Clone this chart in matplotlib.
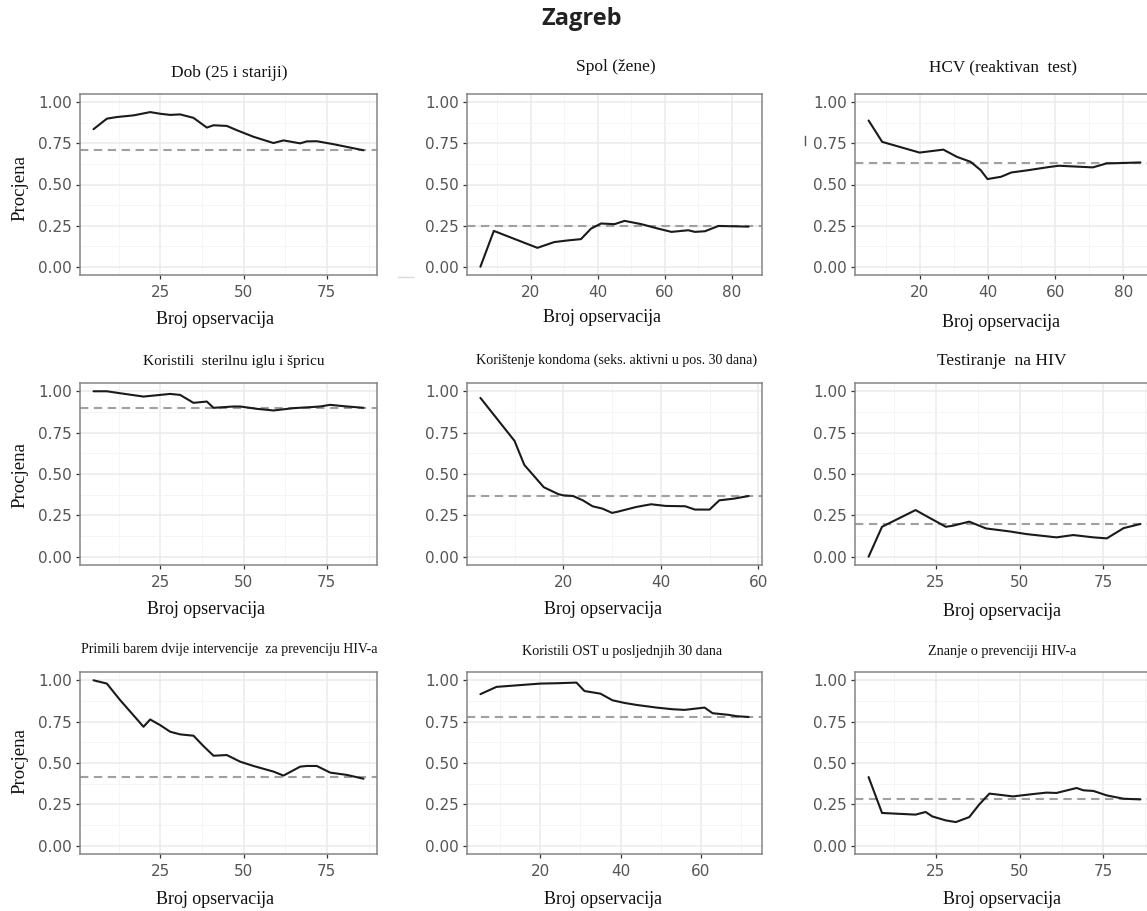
import matplotlib
matplotlib.use("Agg")
import matplotlib.pyplot as plt
from matplotlib.lines import Line2D
from matplotlib.ticker import FixedLocator, FixedFormatter

plt.rcParams["lines.scale_dashes"] = False

# ---- data: running estimate by number of observations ----
dob_n = [5, 9, 12, 17, 22, 25, 28, 31, 35, 39, 41, 45, 48, 53, 59, 62, 67, 69, 72, 77, 86]
dob_p = [0.836, 0.90, 0.91, 0.92, 0.94, 0.93, 0.923, 0.926, 0.905, 0.846, 0.86, 0.856,
         0.83, 0.79, 0.752, 0.768, 0.75, 0.762, 0.763, 0.745, 0.708]
dob_ref = 0.709

spol_n = [5, 9, 22, 27, 31, 35, 38, 41, 45, 48, 53, 58, 62, 67, 69, 72, 76, 85]
spol_p = [0.0, 0.218, 0.115, 0.15, 0.16, 0.168, 0.232, 0.263, 0.259, 0.279, 0.259,
          0.232, 0.212, 0.222, 0.212, 0.216, 0.248, 0.244]
spol_ref = 0.246

hcv_n = [5, 9, 20, 27, 31, 35, 38, 40, 44, 47, 52, 58, 61, 67, 71, 75, 85]
hcv_p = [0.889, 0.759, 0.694, 0.712, 0.668, 0.638, 0.587, 0.533, 0.547, 0.573, 0.587,
         0.606, 0.614, 0.608, 0.604, 0.628, 0.634]
hcv_ref = 0.628

igla_n = [5, 9, 13, 20, 25, 28, 31, 35, 37, 39, 41, 47, 49, 54, 59, 65, 70, 73, 76, 80, 86]
igla_p = [1.0, 1.0, 0.988, 0.968, 0.978, 0.984, 0.978, 0.93, 0.934, 0.938, 0.90, 0.908,
          0.908, 0.894, 0.884, 0.898, 0.904, 0.908, 0.918, 0.91, 0.90]
igla_ref = 0.90

kond_n = [3, 10, 12, 16, 19, 20, 22, 24, 26, 28, 30, 31, 35, 38, 41, 45, 47, 50, 52, 55, 58]
kond_p = [0.96, 0.70, 0.555, 0.42, 0.378, 0.371, 0.367, 0.341, 0.305, 0.291, 0.265,
          0.271, 0.301, 0.317, 0.307, 0.305, 0.285, 0.285, 0.341, 0.351, 0.367]
kond_ref = 0.367

test_n = [5, 9, 19, 22, 28, 30, 35, 40, 47, 52, 61, 66, 72, 76, 81, 86]
test_p = [0.0, 0.181, 0.282, 0.248, 0.181, 0.187, 0.212, 0.171, 0.153, 0.137, 0.117,
          0.131, 0.117, 0.111, 0.173, 0.198]
test_ref = 0.198

prim_n = [5, 9, 13, 20, 22, 25, 28, 31, 35, 38, 41, 45, 49, 53, 59, 62, 67, 69, 72, 76, 81, 86]
prim_p = [1.0, 0.98, 0.88, 0.719, 0.763, 0.729, 0.689, 0.673, 0.665, 0.602, 0.544, 0.548,
          0.508, 0.482, 0.448, 0.424, 0.478, 0.482, 0.482, 0.442, 0.428, 0.405]
prim_ref = 0.415

ost_n = [5, 9, 15, 20, 24, 29, 31, 35, 38, 41, 44, 49, 53, 56, 61, 63, 67, 69, 72]
ost_p = [0.916, 0.96, 0.971, 0.98, 0.982, 0.986, 0.935, 0.919, 0.879, 0.863, 0.851,
         0.835, 0.825, 0.821, 0.835, 0.801, 0.791, 0.783, 0.778]
ost_ref = 0.778

zn_n = [5, 9, 19, 22, 24, 28, 31, 35, 38, 41, 44, 48, 53, 58, 61, 67, 69, 72, 76, 81, 86]
zn_p = [0.415, 0.198, 0.188, 0.204, 0.177, 0.153, 0.143, 0.173, 0.25, 0.315, 0.308,
        0.298, 0.31, 0.321, 0.319, 0.349, 0.335, 0.331, 0.304, 0.284, 0.28]
zn_ref = 0.284

titles = [
    "Dob (25 i stariji)", "Spol (žene)", "HCV (reaktivan  test)",
    "Koristili  sterilnu iglu i špricu", "Korištenje kondoma (seks. aktivni u pos. 30 dana)",
    "Testiranje  na HIV",
    "Primili barem dvije intervencije  za prevenciju HIV-a", "Koristili OST u posljednjih 30 dana",
    "Znanje o prevenciji HIV-a",
]
series = [
    (dob_n, dob_p, dob_ref), (spol_n, spol_p, spol_ref), (hcv_n, hcv_p, hcv_ref),
    (igla_n, igla_p, igla_ref), (kond_n, kond_p, kond_ref), (test_n, test_p, test_ref),
    (prim_n, prim_p, prim_ref), (ost_n, ost_p, ost_ref), (zn_n, zn_p, zn_ref),
]
x_breaks = [
    [25, 50, 75], [20, 40, 60, 80], [20, 40, 60, 80],
    [25, 50, 75], [20, 40, 60], [25, 50, 75],
    [25, 50, 75], [20, 40, 60], [25, 50, 75],
]
y_breaks = [0.0, 0.25, 0.50, 0.75, 1.00]
y_labels = ["0.00", "0.25", "0.50", "0.75", "1.00"]
x_label = "Broj opservacija"
y_label = "Procjena"
main_title = "Zagreb"

# ---- layout (pixels) ----
W, H, DPI = 1147, 911, 100
col_lr = [(80, 377), (467, 762), (855, 1154)]
row_tb = [(94, 275), (383, 565), (672, 854)]
title_xy = [(229, 73), (616, 67), (1003, 67),
            (234, 361), (617, 360), (1002, 361),
            (229, 650), (622, 652), (1002, 651)]
title_size = [12.5, 12.5, 12.3, 11.0, 10.1, 12.6, 10.0, 10.1, 10.2]
xlab_xy = [(215, 320), (602, 317), (1001, 322),
           (206, 610), (603, 610), (1002, 611),
           (215, 899), (603, 899), (1002, 899)]
ylab_y = [188, 475, 761]

fig = plt.figure(figsize=(W / DPI, H / DPI), dpi=DPI)
fig.patch.set_facecolor("white")

SERIF = "Liberation Serif"


def fx(px):
    return px / W


def fy(py):
    return 1 - py / H


def midpoints(br, lo, hi):
    step = br[1] - br[0]
    pts = [br[0] - step / 2] + [b + step / 2 for b in br]
    return [p for p in pts if lo < p < hi]


for i, ((n, p, ref), br) in enumerate(zip(series, x_breaks)):
    r, c = divmod(i, 3)
    l, rr = col_lr[c]
    t, b = row_tb[r]
    ax = fig.add_axes([fx(l), fy(b), (rr - l) / W, (b - t) / H])
    ax.set_facecolor("white")

    span = max(n) - min(n)
    xlo, xhi = min(n) - 0.05 * span, max(n) + 0.05 * span
    ax.set_xlim(xlo, xhi)
    ax.set_ylim(-0.05, 1.05)

    ax.xaxis.set_major_locator(FixedLocator(br))
    ax.xaxis.set_minor_locator(FixedLocator(midpoints(br, xlo, xhi)))
    ax.yaxis.set_major_locator(FixedLocator(y_breaks))
    ax.yaxis.set_major_formatter(FixedFormatter(y_labels))
    ax.yaxis.set_minor_locator(FixedLocator([0.125, 0.375, 0.625, 0.875]))

    ax.set_axisbelow(True)
    ax.grid(which="major", color="#EBEBEB", linewidth=1.1)
    ax.grid(which="minor", color="#F4F4F4", linewidth=0.6)
    for s in ax.spines.values():
        s.set_color("#858585")
        s.set_linewidth(1.1)

    ax.tick_params(which="major", length=3, width=0.9, color="#333333",
                   labelsize=11, labelcolor="#555555")
    ax.tick_params(axis="y", pad=3)
    ax.tick_params(axis="x", pad=4)
    ax.tick_params(which="minor", length=0)

    ax.axhline(ref, color="#A0A0A0", linewidth=1.5, dashes=(6, 4), zorder=2)
    ax.plot(n, p, color="#1A1A1A", linewidth=1.5, solid_joinstyle="round",
            solid_capstyle="round", zorder=3)

    tx, ty = title_xy[i]
    fig.text(fx(tx), fy(ty), titles[i], ha="center", va="center",
             family=SERIF, fontsize=title_size[i], color="#111111")
    lx, ly = xlab_xy[i]
    fig.text(fx(lx), fy(ly), x_label, ha="center", va="center",
             family=SERIF, fontsize=13, color="#111111")

for yy in ylab_y:
    fig.text(fx(20), fy(yy), y_label, ha="center", va="center", rotation=90,
             family=SERIF, fontsize=13.5, color="#111111")

fig.text(fx(582), fy(19), main_title, ha="center", va="center",
         family="Open Sans", fontweight="bold", fontsize=17, color="#222222")

# small stray marks between panels
fig.add_artist(Line2D([fx(398), fx(413)], [fy(277), fy(277)], color="#D9D9D9", linewidth=1.0))
fig.add_artist(Line2D([fx(805), fx(805)], [fy(136), fy(145)], color="#555555", linewidth=1.0))

fig.savefig("out.png", dpi=DPI, facecolor="white")
